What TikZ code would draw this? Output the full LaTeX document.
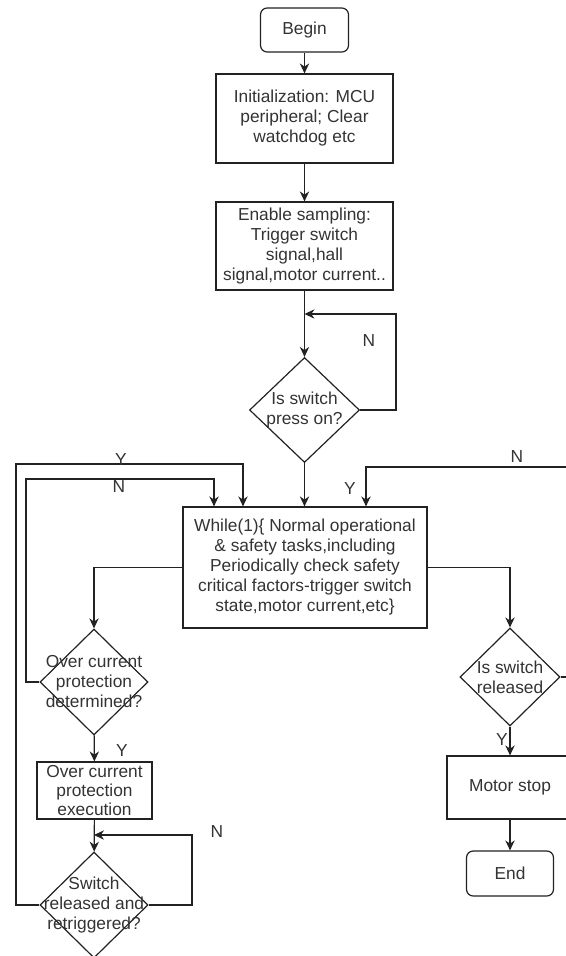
\documentclass[tikz,border=0pt]{standalone}
\usepackage{fontspec}
\setmainfont{Liberation Sans}
\usetikzlibrary{shapes.geometric,arrows.meta}

\newcommand{\chartfont}{\fontsize{13}{15}\selectfont}
\definecolor{inkgray}{HTML}{222222}
\definecolor{txtgray}{HTML}{333333}

\tikzset{
  flow/.style={draw=inkgray, line width=0.9pt, -{Stealth[length=7.5pt,width=7pt]}},
  terminal/.style={draw=inkgray, line width=0.9pt, rounded corners=5pt, inner sep=0pt, align=center, font=\chartfont, text=txtgray},
  process/.style={draw=inkgray, line width=0.9pt, inner sep=0pt, align=center, font=\chartfont, text=txtgray},
  decision/.style={diamond, draw=inkgray, line width=0.9pt, inner sep=0pt},
  dtext/.style={inner sep=0pt, align=center, font=\chartfont, text=txtgray},
  tag/.style={inner sep=0pt, font=\chartfont, text=txtgray}
}

\begin{document}
\begin{tikzpicture}[x=0.75pt,y=0.75pt,yscale=-1,xscale=1]
%set diagram at 566 x 956
\useasboundingbox (0,0) rectangle (566,956);

%Shape: Rounded Rectangle
\node[terminal, minimum width=66pt, minimum height=33pt] (begin) at (304.5,30) {Begin};
%Shape: Rectangle
\node[process, minimum width=132.75pt, minimum height=66.75pt] (init) at (304.5,118.5) {Initialization: MCU\\peripheral; Clear\\watchdog etc};
%Shape: Rectangle
\node[process, minimum width=132.75pt, minimum height=66pt] (enable) at (304.5,246) {Enable sampling:\\Trigger switch\\signal,hall\\signal,motor current..};
%Shape: Diamond
\node[decision, minimum width=82.5pt, minimum height=78.75pt] (press) at (304.5,410) {};
\node[dtext] (presstext) at (press) {Is switch\\press on?};
%Shape: Rectangle
\node[process, minimum width=183pt, minimum height=90.75pt] (while) at (305,567.5) {While(1)\{ Normal operational\\\& safety tasks,including\\Periodically check safety\\critical factors-trigger switch\\state,motor current,etc\}};

%Shape: Diamond
\node[decision, minimum width=81pt, minimum height=79.5pt] (overcur) at (94,682) {};
\node[dtext] (overcurtext) at (overcur) {Over current\\protection\\determined?};
%Shape: Rectangle
\node[process, minimum width=86.25pt, minimum height=42.75pt, font=\fontsize{13}{14}\selectfont] (exec) at (94.5,790.5) {Over current\\protection\\execution};
%Shape: Diamond
\node[decision, minimum width=81pt, minimum height=79.5pt] (retrig) at (94,905) {};
\node[dtext] (retrigtext) at (retrig) {Switch\\released and\\retriggered?};

%Shape: Diamond
\node[decision, minimum width=75pt, minimum height=73.5pt] (relsw) at (510,677) {};
\node[dtext] (relswtext) at (relsw) {Is switch\\released};
%Shape: Rectangle
\node[process, minimum width=94.5pt, minimum height=47.25pt] (motor) at (510,787.5) {Motor stop};
%Shape: Rounded Rectangle
\node[terminal, minimum width=65.25pt, minimum height=33.75pt] (finish) at (510,873.5) {End};

%Connectors
\coordinate (pressloop) at (304.5,314);
\coordinate (nin) at (214,479);
\coordinate (yin) at (243,464);
\coordinate (rin) at (366,467);
\coordinate (retrigloop) at (94,835);

\draw[flow] (begin) -- (init);
\draw[flow] (init) -- (enable);
\draw[flow] (enable) -- (press);
\draw[flow] (press.east) -- (396,410) |- (pressloop);
\draw[flow] (press) -- (press |- while.north);

\draw[flow] (while.west) -| (overcur.north);
\draw[flow] (overcur) -- (exec);
\draw[flow] (exec) -- (retrig);
\draw[flow] (retrig.east) -- (192,905) |- (retrigloop);
\draw[flow] (overcur.west) -- (26,682) |- (nin) -- (nin |- while.north);
\draw[flow] (retrig.west) -- (16,905) |- (yin) -- (yin |- while.north);

\draw[flow] (while.east) -| (relsw.north);
\draw[flow] (relsw.east) -- (574,677) |- (rin) -- (rin |- while.north);
\draw[flow] (relsw) -- (motor);
\draw[flow] (motor) -- (finish);

% Text Node
\node[tag] (npress) at (369,341) {N};
% Text Node
\node[tag] (yretrig) at (121,460) {Y};
% Text Node
\node[tag] (novercur) at (119,487) {N};
% Text Node
\node[tag] (yrel) at (350,489) {Y};
% Text Node
\node[tag] (nrel) at (517,457) {N};
% Text Node
\node[tag] (yover) at (122,751) {Y};
% Text Node
\node[tag] (nretrig) at (217,832) {N};
% Text Node
\node[tag] (yrelsw) at (502,740) {Y};

\end{tikzpicture}
\end{document}
